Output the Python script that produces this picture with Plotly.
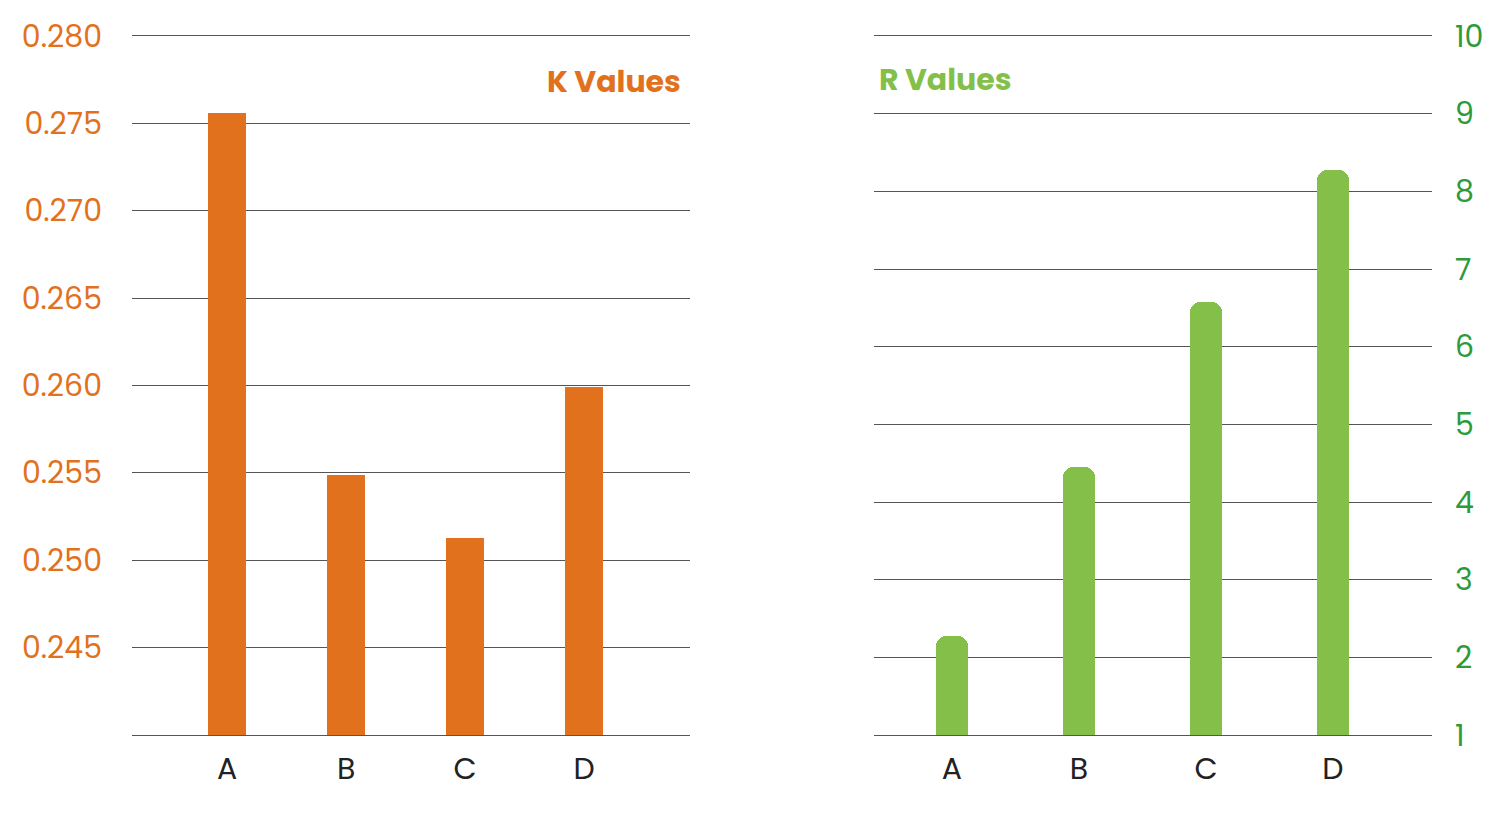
import plotly.graph_objects as go

categories = ["A", "B", "C", "D"]
k_values = [0.2756, 0.2549, 0.2513, 0.2599]
r_values = [2.27, 4.45, 6.57, 8.27]
k_ticks = [0.240, 0.245, 0.250, 0.255, 0.260, 0.265, 0.270, 0.275, 0.280]
k_ticktext = [""] + [f"{v:.3f}" for v in k_ticks[1:]]
r_ticks = [1, 2, 3, 4, 5, 6, 7, 8, 9, 10]

ORANGE = "#E2711D"
GREEN_BAR = "#84BF4A"
GREEN_TXT = "#2E9A3A"
GRID = "#555555"
FONT = "Poppins, Lato, 'Open Sans', sans-serif"

# page is offset by the 8px body margin; figure fills the rest of the window
W, H, OFF = 1492, 806, 8


def px(p):
    return (p - OFF) / W


def py(p):
    return 1 - (p - OFF) / H


fig = go.Figure()
fig.add_trace(go.Bar(x=categories, y=k_values, marker=dict(color=ORANGE, line=dict(width=0)),
                     width=0.32, xaxis="x", yaxis="y", showlegend=False))
fig.add_trace(go.Bar(x=categories, y=r_values,
                     marker=dict(color=GREEN_BAR, line=dict(width=0), cornerradius=10),
                     width=0.25, xaxis="x2", yaxis="y2", showlegend=False))

common_x = dict(showgrid=False, zeroline=False, ticks="", automargin=False,
                showline=True, mirror=True, linecolor=GRID, linewidth=1,
                tickfont=dict(size=30, color="#222"), ticklabelstandoff=7)

fig.update_layout(
    width=W, height=H,
    margin=dict(l=0, r=0, t=0, b=0),
    paper_bgcolor="white", plot_bgcolor="white",
    font=dict(family=FONT, color="#222"),
    bargap=0,
    xaxis=dict(domain=[px(132), px(690)], range=[-0.8, 3.89], anchor="y", **common_x),
    yaxis=dict(domain=[py(735), py(36)], range=[0.240, 0.280], anchor="x", automargin=False,
               tickvals=k_ticks, ticktext=k_ticktext, showgrid=True,
               gridcolor=GRID, gridwidth=1, zeroline=False, showline=False,
               ticks="", tickfont=dict(size=30, color=ORANGE), ticklabelstandoff=29),
    xaxis2=dict(domain=[px(874), px(1432)], range=[-0.614, 3.78], anchor="y2", **common_x),
    yaxis2=dict(domain=[py(735), py(36)], range=[1, 10], anchor="x2", side="right",
                automargin=False, tickvals=r_ticks, showgrid=True, gridcolor=GRID, gridwidth=1,
                zeroline=False, showline=False, ticks="",
                tickfont=dict(size=30, color=GREEN_TXT), ticklabelstandoff=22),
    annotations=[
        dict(text="<b>K Values</b>", x=px(683), y=py(82), xref="paper", yref="paper",
             xanchor="right", yanchor="middle", showarrow=False,
             font=dict(size=30, color=ORANGE, family=FONT)),
        dict(text="<b>R Values</b>", x=px(877), y=py(80), xref="paper", yref="paper",
             xanchor="left", yanchor="middle", showarrow=False,
             font=dict(size=30, color=GREEN_BAR, family=FONT)),
    ],
)

fig.write_html("out.html")
